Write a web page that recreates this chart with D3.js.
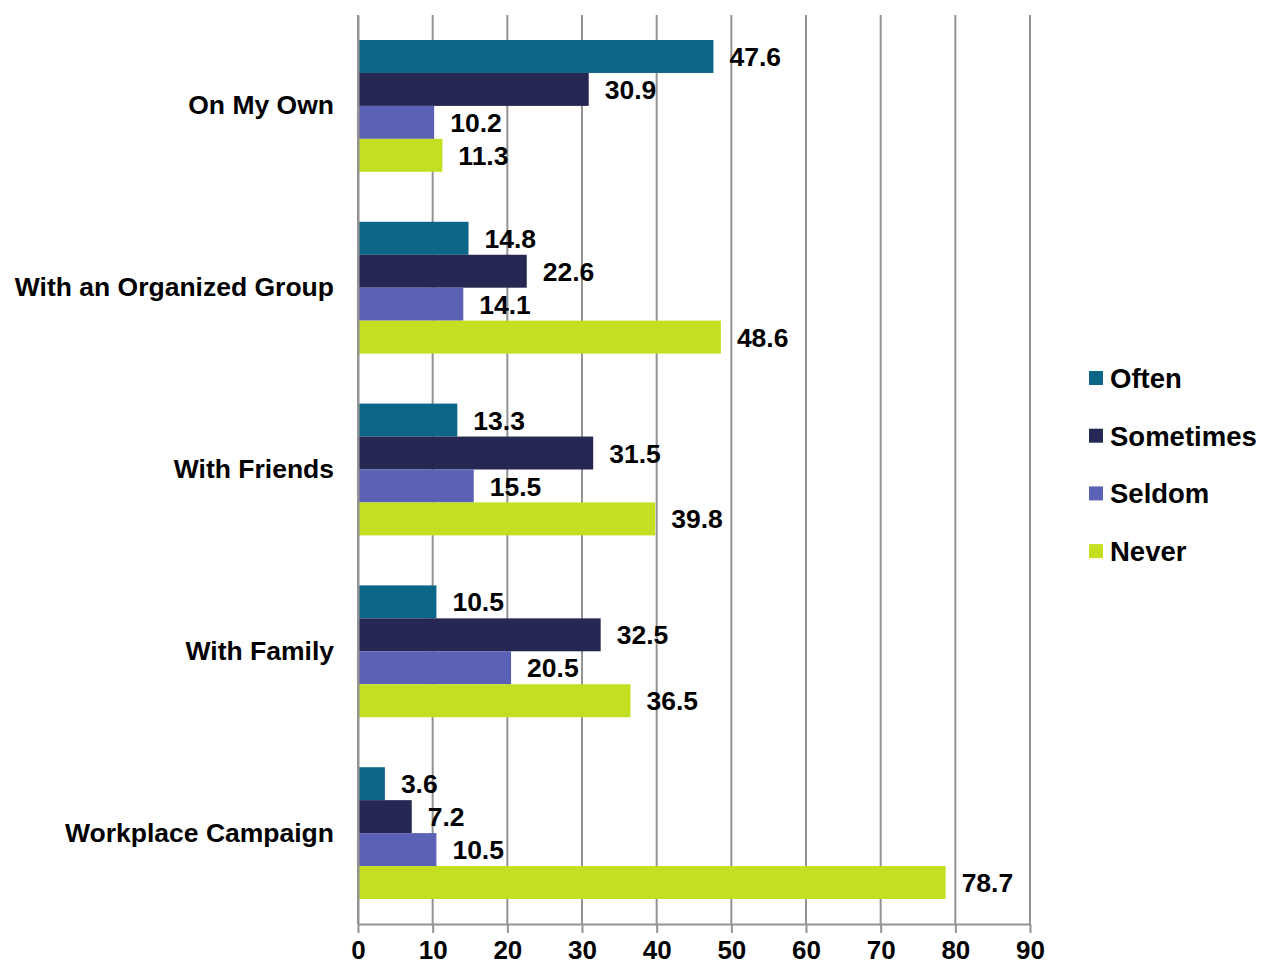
<!DOCTYPE html>
<html>
<head>
<meta charset="utf-8">
<script src="https://cdn.jsdelivr.net/npm/d3@7"></script>
<style>
  html, body { margin: 0; padding: 0; background: #ffffff; }
  svg { display: block; font-family: "Liberation Sans", Arial, sans-serif; }
</style>
</head>
<body>
<svg id="chart" width="1262" height="967"></svg>
<script>
const categories = ["On My Own", "With an Organized Group", "With Friends", "With Family", "Workplace Campaign"];
const seriesNames = ["Often", "Sometimes", "Seldom", "Never"];
const often     = [47.6, 14.8, 13.3, 10.5, 3.6];
const sometimes = [30.9, 22.6, 31.5, 32.5, 7.2];
const seldom    = [10.2, 14.1, 15.5, 20.5, 10.5];
const never     = [11.3, 48.6, 39.8, 36.5, 78.7];
const xTicks = [0, 10, 20, 30, 40, 50, 60, 70, 80, 90];
const colors = ["#0b6688", "#262752", "#5b62b5", "#c4df22"];

const seriesValues = [often, sometimes, seldom, never];
const rows = categories.map((c, i) => ({
  category: c,
  values: seriesNames.map((s, j) => ({ series: s, value: seriesValues[j][i] }))
}));

const svg = d3.select("#chart");
const plotLeft = 358, plotRight = 1030, plotTop = 15, plotBottom = 924;

const x = d3.scaleLinear().domain([0, 90]).range([plotLeft, plotRight]);
const y0 = d3.scaleBand().domain(categories).range([plotTop, plotBottom])
  .paddingInner(0.275).paddingOuter(0.1375);
const y1 = d3.scaleBand().domain(seriesNames).range([0, y0.bandwidth()]);
const color = d3.scaleOrdinal().domain(seriesNames).range(colors);

const gridColor = "#939393";

// vertical gridlines
svg.append("g").selectAll("line")
  .data(xTicks)
  .join("line")
  .attr("x1", d => x(d)).attr("x2", d => x(d))
  .attr("y1", plotTop).attr("y2", plotBottom)
  .attr("stroke", gridColor).attr("stroke-width", 2);

// bars
const groups = svg.append("g").selectAll("g")
  .data(rows)
  .join("g")
  .attr("transform", d => `translate(0,${y0(d.category)})`);

groups.selectAll("rect")
  .data(d => d.values)
  .join("rect")
  .attr("x", x(0))
  .attr("y", d => y1(d.series))
  .attr("width", d => x(d.value) - x(0))
  .attr("height", y1.bandwidth())
  .attr("fill", d => color(d.series));

groups.selectAll("text")
  .data(d => d.values)
  .join("text")
  .attr("x", d => x(d.value) + 16)
  .attr("y", d => y1(d.series) + y1.bandwidth() / 2)
  .attr("dy", "0.36em")
  .attr("font-size", 26.5)
  .attr("font-weight", "bold")
  .attr("fill", "#000")
  .text(d => d.value.toFixed(1));

// x axis
const xAxis = svg.append("g")
  .attr("transform", `translate(0,${plotBottom})`)
  .call(d3.axisBottom(x).tickValues(xTicks).tickSize(9).tickSizeOuter(0).tickPadding(8));
xAxis.select(".domain").attr("stroke", gridColor).attr("stroke-width", 2);
xAxis.selectAll(".tick line").attr("stroke", gridColor).attr("stroke-width", 2);
xAxis.selectAll(".tick text")
  .attr("font-size", 26).attr("font-weight", "bold").attr("fill", "#000")
  .attr("font-family", "'Liberation Sans', Arial, sans-serif");

// y axis (left line + category labels)
const yAxis = svg.append("g")
  .attr("transform", `translate(${plotLeft},0)`)
  .call(d3.axisLeft(y0).tickSize(0).tickPadding(24));
yAxis.select(".domain").attr("stroke", gridColor).attr("stroke-width", 2);
yAxis.selectAll(".tick text")
  .attr("font-size", 26.5).attr("font-weight", "bold").attr("fill", "#000")
  .attr("font-family", "'Liberation Sans', Arial, sans-serif");

// legend
const legend = svg.append("g").attr("transform", "translate(1089,378)");
const li = legend.selectAll("g")
  .data(seriesNames)
  .join("g")
  .attr("transform", (d, i) => `translate(0,${i * 57.7})`);
li.append("rect")
  .attr("x", 0).attr("y", -7).attr("width", 14).attr("height", 14)
  .attr("fill", d => color(d));
li.append("text")
  .attr("x", 21).attr("y", 0).attr("dy", "0.36em")
  .attr("font-size", 27.5).attr("font-weight", "bold").attr("fill", "#000")
  .text(d => d);
</script>
</body>
</html>
